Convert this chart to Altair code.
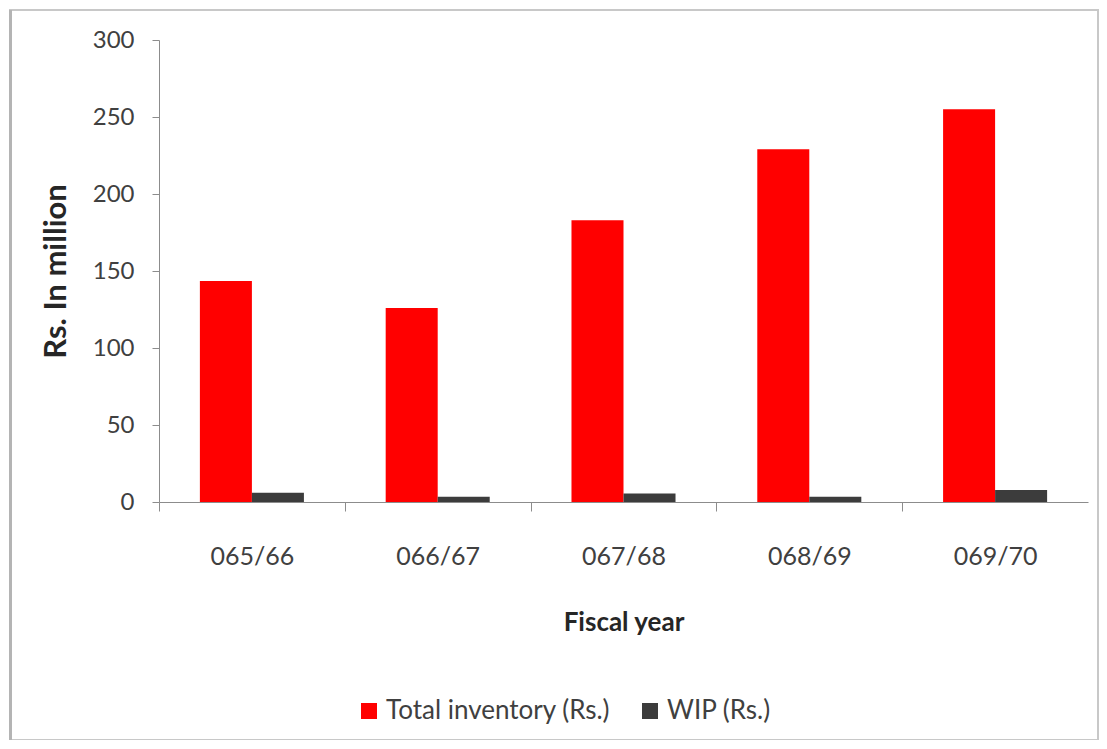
import altair as alt
import pandas as pd

years = ["065/66", "066/67", "067/68", "068/69", "069/70"]
total_inventory = [143.5, 126, 183, 229, 255]
wip = [6, 3.4, 5.5, 3.4, 7.8]
series_names = ["Total inventory (Rs.)", "WIP (Rs.)"]
series_colors = ["#FF0000", "#3C3C3C"]

rows = []
for i, y in enumerate(years):
    rows.append({"year": y, "series": series_names[0], "value": total_inventory[i]})
    rows.append({"year": y, "series": series_names[1], "value": wip[i]})
df = pd.DataFrame(rows)

FONT = "Lato"
W, H = 929, 462
band = W / len(years)

bars = alt.Chart(df).mark_bar(opacity=1).encode(
    x=alt.X("year:N", sort=years,
            scale=alt.Scale(paddingInner=0, paddingOuter=0),
            axis=alt.Axis(title="Fiscal year", labelAngle=0, tickOffset=-band / 2,
                          labelOffset=band / 2, tickSize=9, labelPadding=33,
                          labelFontSize=25, titleFontSize=26, titleFontWeight="bold",
                          titleY=120, titleBaseline="middle", titleX=W / 2,
                          domainColor="#8C8C8C", tickColor="#8C8C8C",
                          labelColor="#404040", titleColor="#262626")),
    xOffset=alt.XOffset("series:N", sort=series_names,
                        scale=alt.Scale(paddingInner=0, paddingOuter=0.786)),
    y=alt.Y("value:Q",
            scale=alt.Scale(domain=[0, 300], nice=False),
            axis=alt.Axis(title="Rs. In million", values=[0, 50, 100, 150, 200, 250, 300],
                          grid=False, tickSize=7, labelPadding=18,
                          labelFontSize=24, titleFontSize=31, titleFontWeight="bold",
                          titleAngle=-90, titleX=-103, titleY=H / 2,
                          titleBaseline="middle", titleAlign="center",
                          domainColor="#8C8C8C", tickColor="#8C8C8C",
                          labelColor="#404040", titleColor="#262626")),
    color=alt.Color("series:N", sort=series_names,
                    scale=alt.Scale(domain=series_names, range=series_colors),
                    legend=alt.Legend(title=None, orient="none", direction="horizontal",
                                      legendX=197, legendY=658, symbolType="square",
                                      symbolSize=256, symbolStrokeWidth=0,
                                      labelFontSize=26, labelColor="#404040",
                                      labelLimit=0, labelOffset=4, columnPadding=26,
                                      padding=0)),
)

frame = alt.Chart(pd.DataFrame({"k": [0]})).mark_rect(
    fillOpacity=0, stroke="#C8C8C8", strokeWidth=2
).encode(x=alt.value(-149), x2=alt.value(939), y=alt.value(-30), y2=alt.value(700))

frame_left = alt.Chart(pd.DataFrame({"k": [0]})).mark_rule(
    stroke="#B4B4B4", strokeWidth=3
).encode(x=alt.value(-148.5), y=alt.value(-30), y2=alt.value(700))

chart = alt.layer(bars, frame, frame_left).properties(
    width=W, height=H,
    autosize=alt.AutoSizeParams(type="none"),
    padding={"left": 151, "top": 32, "right": 11, "bottom": 238},
).configure(font=FONT, background="white").configure_view(stroke=None)

chart.save("out.html", embed_options={"renderer": "svg", "actions": False})
